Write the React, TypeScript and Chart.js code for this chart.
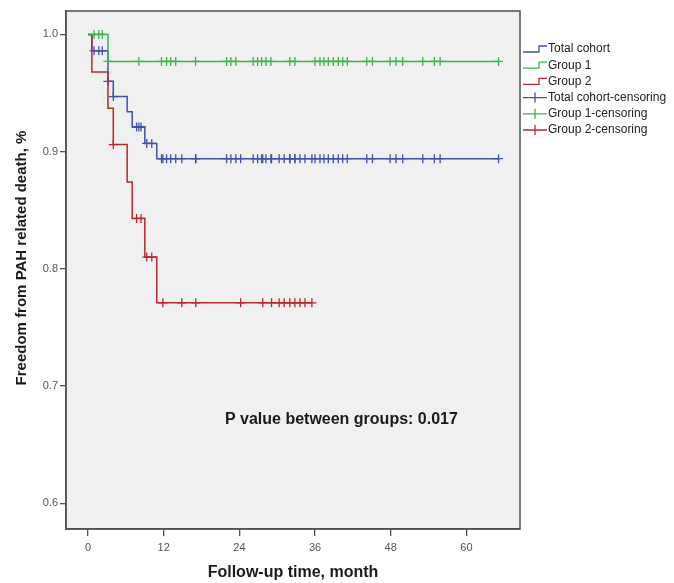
import React, { useEffect, useRef } from 'react';
import { Chart, registerables } from 'chart.js';

Chart.register(...registerables);

const FONT = "'Liberation Sans', Arial, sans-serif";

// axis ticks
const xTicks = [0, 12, 24, 36, 48, 60];
const yTicks = [0.6, 0.7, 0.8, 0.9, 1.0];

const xTitle = 'Follow-up time, month';
const yTitle = 'Freedom from PAH related death, %';

// Kaplan-Meier steps (time in months, survival)
const totalTimes = [0, 0.6, 3.15, 4.0, 6.2, 7.0, 9.0, 10.9, 65.1];
const totalSurv = [1.0, 0.986, 0.96, 0.947, 0.934, 0.921, 0.907, 0.894, 0.894];

const group1Times = [0, 3.15, 65.1];
const group1Surv = [1.0, 0.977, 0.977];

const group2Times = [0, 0.6, 3.15, 4.0, 6.2, 7.0, 9.0, 10.9, 35.5];
const group2Surv = [1.0, 0.968, 0.937, 0.906, 0.874, 0.843, 0.81, 0.771, 0.771];

// censored observations (months)
const group1Censor = [
  0.95, 1.7, 2.25, 3.15, 8.05, 11.65, 12.45, 13.1, 13.9, 17.05, 21.97, 22.65, 23.44,
  26.19, 26.89, 27.52, 28.21, 29.0, 32.0, 32.8, 35.98, 36.78, 37.41, 38.1, 38.89, 39.68,
  40.38, 41.11, 44.2, 45.1, 47.9, 48.84, 49.9, 53.08, 54.92, 55.83, 65.1,
];
const group2Censor = [
  4.0, 7.7, 8.4, 9.3, 10.1, 11.86, 14.87, 17.09, 24.2, 27.7, 29.1, 30.3, 31.1, 32.0,
  32.8, 33.6, 34.4, 35.5,
];
const totalCensor = [...group1Censor, ...group2Censor].sort((a, b) => a - b);

const seriesNames = ['Total cohort', 'Group 1', 'Group 2'];
const censorNames = ['Total cohort-censoring', 'Group 1-censoring', 'Group 2-censoring'];
const colors = ['#4050a8', '#3cb44a', '#b8282e'];

const pValueText = 'P value between groups: 0.017';
const pValueX = 21.7;
const pValueY = 0.671;

function survAt(times: number[], surv: number[], t: number) {
  let v = surv[0];
  for (let i = 0; i < times.length; i++) {
    if (times[i] <= t) v = surv[i];
  }
  return v;
}

function stepData(times: number[], surv: number[]) {
  return times.map((t, i) => ({ x: t, y: surv[i] }));
}

function censorData(times: number[], surv: number[], censor: number[]) {
  return censor.map((c) => ({ x: c, y: survAt(times, surv, c) }));
}

const framePlugin = {
  id: 'frame',
  beforeDraw(chart: any) {
    const { ctx, chartArea: a } = chart;
    ctx.save();
    ctx.fillStyle = '#ffffff';
    ctx.fillRect(0, 0, chart.width, chart.height);
    ctx.fillStyle = '#f0f0f0';
    ctx.fillRect(a.left, a.top, a.right - a.left, a.bottom - a.top);
    ctx.restore();
  },
  afterDraw(chart: any) {
    const { ctx, chartArea: a, scales } = chart;
    ctx.save();
    ctx.strokeStyle = '#505050';
    ctx.lineWidth = 1.5;
    ctx.strokeRect(a.left, a.top, a.right - a.left, a.bottom - a.top);

    // y axis title
    ctx.save();
    ctx.translate(22, (a.top + a.bottom) / 2 - 12);
    ctx.rotate(-Math.PI / 2);
    ctx.fillStyle = '#1a1a1a';
    ctx.font = `bold 15px ${FONT}`;
    ctx.textAlign = 'center';
    ctx.textBaseline = 'middle';
    ctx.fillText(yTitle, 0, 0);
    ctx.restore();

    // x axis title
    ctx.fillStyle = '#1a1a1a';
    ctx.font = `bold 16px ${FONT}`;
    ctx.textAlign = 'center';
    ctx.textBaseline = 'middle';
    ctx.fillText(xTitle, (a.left + a.right) / 2, 573);

    // p-value annotation
    ctx.textAlign = 'left';
    ctx.fillText(pValueText, scales.x.getPixelForValue(pValueX), scales.y.getPixelForValue(pValueY));

    // legend
    const lx = a.right + 3;
    const ly = 49;
    const gap = 16.2;
    ctx.font = `12px ${FONT}`;
    ctx.lineWidth = 1.3;
    const items = [
      ...seriesNames.map((n, i) => ({ name: n, color: colors[i], kind: 'step' })),
      ...censorNames.map((n, i) => ({ name: n, color: colors[i], kind: 'cross' })),
    ];
    items.forEach((it, i) => {
      const y = ly + i * gap;
      ctx.strokeStyle = it.color;
      ctx.beginPath();
      if (it.kind === 'step') {
        ctx.moveTo(lx, y + 3);
        ctx.lineTo(lx + 16, y + 3);
        ctx.lineTo(lx + 16, y - 3);
        ctx.lineTo(lx + 24, y - 3);
      } else {
        ctx.moveTo(lx, y);
        ctx.lineTo(lx + 24, y);
        ctx.moveTo(lx + 12, y - 5);
        ctx.lineTo(lx + 12, y + 5);
      }
      ctx.stroke();
      ctx.fillStyle = '#222';
      ctx.fillText(it.name, lx + 25, y);
    });
    ctx.restore();
  },
};

export default function App() {
  const ref = useRef<HTMLCanvasElement>(null);

  useEffect(() => {
    if (!ref.current) return;
    Chart.defaults.font.family = FONT;
    const stepSets = [
      [totalTimes, totalSurv],
      [group1Times, group1Surv],
      [group2Times, group2Surv],
    ];
    const censors = [totalCensor, group1Censor, group2Censor];
    const lineOrder = [3, 1, 2];
    const datasets: any[] = [];
    stepSets.forEach(([t, s], i) => {
      datasets.push({
        type: 'line',
        label: seriesNames[i],
        data: stepData(t, s),
        borderColor: colors[i],
        borderWidth: 1.5,
        stepped: 'before',
        pointRadius: 0,
        fill: false,
        order: lineOrder[i],
      });
    });
    stepSets.forEach(([t, s], i) => {
      datasets.push({
        type: 'line',
        label: censorNames[i],
        data: censorData(t, s, censors[i]),
        showLine: false,
        borderColor: colors[i],
        backgroundColor: colors[i],
        pointStyle: 'cross',
        pointRadius: 4.5,
        pointBorderWidth: 1.3,
        order: lineOrder[i],
      });
    });

    const chart = new Chart(ref.current, {
      type: 'line',
      data: { datasets },
      plugins: [framePlugin],
      options: {
        responsive: false,
        animation: false,
        devicePixelRatio: 1,
        layout: { padding: { top: 11, right: 154, left: 0, bottom: 0 } },
        plugins: { legend: { display: false }, tooltip: { enabled: false } },
        scales: {
          x: {
            type: 'linear',
            min: -3.5,
            max: 68.5,
            afterBuildTicks: (s: any) => {
              s.ticks = xTicks.map((v) => ({ value: v }));
            },
            afterFit: (s: any) => {
              s.height = 54;
            },
            grid: { drawOnChartArea: false, drawTicks: true, tickLength: 7, color: '#505050', lineWidth: 1.3 },
            border: { display: true, color: '#505050', width: 1.5 },
            ticks: { color: '#555', font: { size: 11 }, padding: 5, maxRotation: 0 },
            title: { display: false },
          },
          y: {
            type: 'linear',
            min: 0.578,
            max: 1.02,
            afterBuildTicks: (s: any) => {
              s.ticks = yTicks.map((v) => ({ value: v }));
            },
            afterFit: (s: any) => {
              s.width = 66;
            },
            grid: { drawOnChartArea: false, drawTicks: true, tickLength: 6, color: '#505050', lineWidth: 1.3 },
            border: { display: true, color: '#505050', width: 1.5 },
            ticks: {
              color: '#555',
              font: { size: 11 },
              padding: 2,
              callback: (v: any) => Number(v).toFixed(1),
            },
            title: { display: false },
          },
        },
      } as any,
    });
    return () => chart.destroy();
  }, []);

  return (
    <div style={{ position: 'fixed', left: 0, top: 0, width: 674, height: 583, background: '#fff' }}>
      <canvas ref={ref} width={674} height={583} style={{ display: 'block' }} />
    </div>
  );
}
